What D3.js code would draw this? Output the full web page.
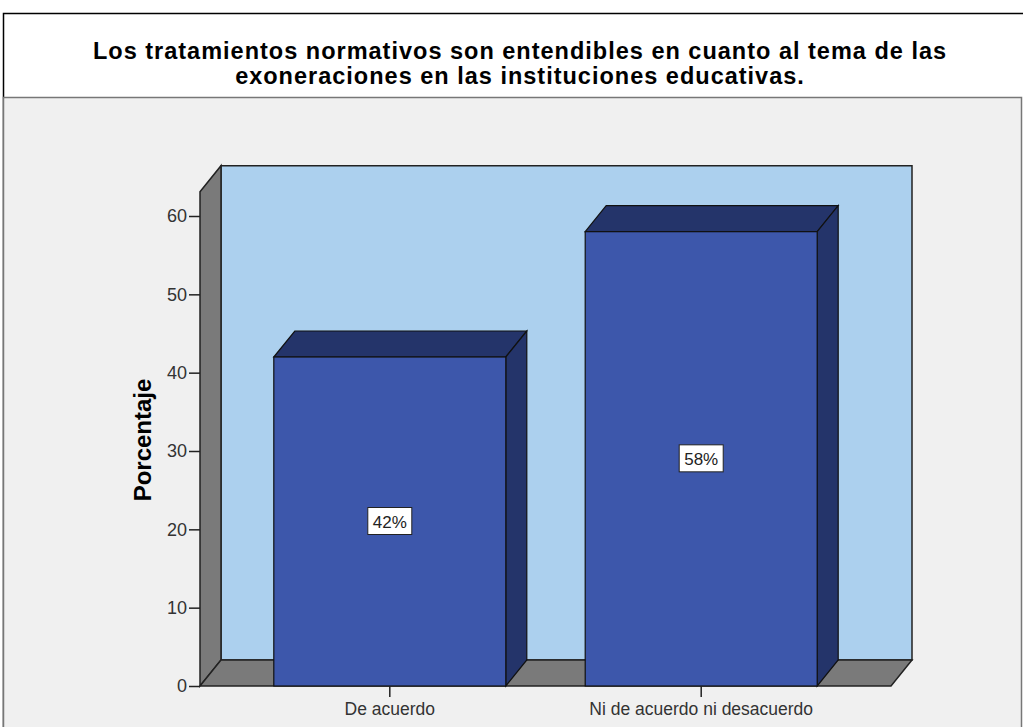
<!DOCTYPE html>
<html>
<head>
<meta charset="utf-8">
<script src="https://cdn.jsdelivr.net/npm/d3@7"></script>
<style>
  body { margin: 0; background: #fff; }
  text { font-family: Arial, "Liberation Sans", sans-serif; }
</style>
</head>
<body>
<div id="chart"></div>
<script>
var categories = ['De acuerdo', 'Ni de acuerdo ni desacuerdo'];
var values = [42, 58];
var labels = ['42%', '58%'];
var yTicks = [0, 10, 20, 30, 40, 50, 60];
var titleLines = [
	'Los tratamientos normativos son entendibles en cuanto al tema de las',
	'exoneraciones en las instituciones educativas.'
];

var width = 1023,
	height = 727;

var svg = d3.select('#chart').append('svg')
	.attr('width', width)
	.attr('height', height);

// outer frame + inner panel
svg.append('rect').attr('x', 3.5).attr('y', 13.5).attr('width', width + 10).attr('height', height)
	.attr('fill', '#fff').attr('stroke', '#000').attr('stroke-width', 1.5);
svg.append('rect').attr('x', 3.5).attr('y', 97.5).attr('width', 1018).attr('height', height)
	.attr('fill', '#f0f0f0').attr('stroke', '#777').attr('stroke-width', 1.5);

svg.selectAll('.title')
	.data(titleLines)
	.enter().append('text')
	.attr('x', 520)
	.attr('y', function(d, i) { return 59 + i * 25; })
	.attr('text-anchor', 'middle')
	.attr('font-size', 23.5)
	.attr('letter-spacing', 1)
	.attr('font-weight', 'bold')
	.attr('fill', '#000')
	.text(function(d) { return d; });

// 3d depth offsets
var dx = 21, dy = -26;

var y = d3.scaleLinear().domain([0, 60]).range([686, 216]);
var yTop = 63.1;

var x = d3.scaleBand().domain(categories).range([200, 891])
	.paddingInner(0.255).paddingOuter(0.237);

var x0 = 200, x1 = 891;

function poly(pts) {
	return 'M' + pts.map(function(p) { return p[0] + ',' + p[1]; }).join('L') + 'Z';
}

var g = svg.append('g');

// back wall
g.append('path')
	.attr('d', poly([[x0 + dx, y(yTop) + dy], [x1 + dx, y(yTop) + dy], [x1 + dx, y(0) + dy], [x0 + dx, y(0) + dy]]))
	.attr('fill', '#acd0ee').attr('stroke', '#222').attr('stroke-width', 1.5);

// left wall
g.append('path')
	.attr('d', poly([[x0, y(yTop)], [x0 + dx, y(yTop) + dy], [x0 + dx, y(0) + dy], [x0, y(0)]]))
	.attr('fill', '#7a7a7a').attr('stroke', '#222').attr('stroke-width', 1.5);

// floor
g.append('path')
	.attr('d', poly([[x0, y(0)], [x0 + dx, y(0) + dy], [x1 + dx, y(0) + dy], [x1, y(0)]]))
	.attr('fill', '#7a7a7a').attr('stroke', '#222').attr('stroke-width', 1.5);

// bars
var bars = g.selectAll('.bar')
	.data(values)
	.enter().append('g')
	.attr('class', 'bar');

bars.append('path')
	.attr('d', function(d, i) {
		var bx = x(categories[i]), bw = x.bandwidth(), ty = y(d);
		return poly([[bx, ty], [bx + dx, ty + dy], [bx + bw + dx, ty + dy], [bx + bw, ty]]);
	})
	.attr('fill', '#24346a').attr('stroke', '#111').attr('stroke-width', 1.2);

bars.append('path')
	.attr('d', function(d, i) {
		var bx = x(categories[i]) + x.bandwidth(), ty = y(d);
		return poly([[bx, ty], [bx + dx, ty + dy], [bx + dx, y(0) + dy], [bx, y(0)]]);
	})
	.attr('fill', '#24346a').attr('stroke', '#111').attr('stroke-width', 1.2);

bars.append('rect')
	.attr('x', function(d, i) { return x(categories[i]); })
	.attr('y', function(d) { return y(d); })
	.attr('width', x.bandwidth())
	.attr('height', function(d) { return y(0) - y(d); })
	.attr('fill', '#3d57ab').attr('stroke', '#111').attr('stroke-width', 1.2);

// value labels
var lab = g.selectAll('.lab')
	.data(values)
	.enter().append('g')
	.attr('transform', function(d, i) {
		return 'translate(' + (x(categories[i]) + x.bandwidth() / 2) + ',' + y(d / 2) + ')';
	});

lab.append('rect')
	.attr('x', -22).attr('y', -14).attr('width', 44).attr('height', 27)
	.attr('fill', '#fff').attr('stroke', '#222').attr('stroke-width', 1);

lab.append('text')
	.attr('text-anchor', 'middle')
	.attr('y', 6)
	.attr('font-size', 17)
	.attr('fill', '#222')
	.text(function(d, i) { return labels[i]; });

// y axis
var yAxis = svg.append('g')
	.attr('transform', 'translate(' + x0 + ',0)')
	.call(d3.axisLeft(y).tickValues(yTicks).tickSize(11).tickPadding(2));
yAxis.select('.domain').remove();
yAxis.selectAll('line').attr('stroke', '#222').attr('stroke-width', 1.5);
yAxis.selectAll('text').attr('font-size', 18).attr('fill', '#333')
	.attr('font-family', 'Arial, "Liberation Sans", sans-serif');

// x axis
var xAxis = svg.append('g')
	.attr('transform', 'translate(0,' + y(0) + ')')
	.call(d3.axisBottom(x).tickSize(11).tickPadding(6));
xAxis.select('.domain').remove();
xAxis.selectAll('line').attr('stroke', '#222').attr('stroke-width', 1.5);
xAxis.selectAll('text').attr('font-size', 17.5).attr('fill', '#333')
	.attr('font-family', 'Arial, "Liberation Sans", sans-serif');

svg.append('text')
	.attr('transform', 'translate(151,440) rotate(-90)')
	.attr('text-anchor', 'middle')
	.attr('font-size', 24)
	.attr('font-weight', 'bold')
	.attr('fill', '#000')
	.text('Porcentaje');
</script>
</body>
</html>
